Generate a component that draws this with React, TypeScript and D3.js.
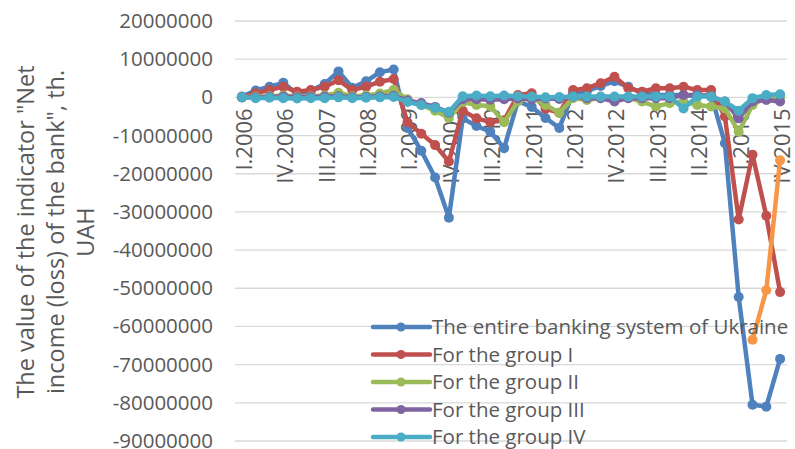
import { useEffect, useRef } from "react";
import * as d3 from "d3";

// quarters I.2006 .. IV.2015
const quarters = [
  "I.2006", "II.2006", "III.2006", "IV.2006",
  "I.2007", "II.2007", "III.2007", "IV.2007",
  "I.2008", "II.2008", "III.2008", "IV.2008",
  "I.2009", "II.2009", "III.2009", "IV.2009",
  "I.2010", "II.2010", "III.2010", "IV.2010",
  "I.2011", "II.2011", "III.2011", "IV.2011",
  "I.2012", "II.2012", "III.2012", "IV.2012",
  "I.2013", "II.2013", "III.2013", "IV.2013",
  "I.2014", "II.2014", "III.2014", "IV.2014",
  "I.2015", "II.2015", "III.2015", "IV.2015",
];

const shownTicks = [
  "I.2006", "IV.2006", "III.2007", "II.2008", "I.2009", "IV.2009", "III.2010",
  "II.2011", "I.2012", "IV.2012", "III.2013", "II.2014", "I.2015", "IV.2015",
];

const yTicks = [
  20000000, 10000000, 0, -10000000, -20000000, -30000000, -40000000,
  -50000000, -60000000, -70000000, -80000000, -90000000,
];

// net income (loss), th. UAH
const entireSystem = [
  200000, 1800000, 2800000, 3800000, 800000, 1800000, 3500000, 6800000,
  2500000, 4200000, 6600000, 7300000, -8000000, -14000000, -21000000, -31500000,
  -5500000, -7500000, -9000000, -13300000, -1000000, -2500000, -5400000, -8000000,
  1100000, 1600000, 3000000, 4200000, 2800000, 1100000, 600000, 600000,
  600000, 300000, 600000, -12000000, -52300000, -80500000, -81000000, -68500000,
];

const groupI = [
  0, 1100000, 1900000, 2800000, 1500000, 1900000, 2800000, 4500000,
  1900000, 2800000, 4100000, 4800000, -6500000, -9500000, -12500000, -16800000,
  -3500000, -5500000, -6500000, -6000000, 600000, 1100000, -3000000, -4000000,
  1900000, 2400000, 3700000, 5400000, 2400000, 1500000, 2400000, 2400000,
  2800000, 1900000, 1900000, -5000000, -32000000, -15000000, -31000000, -51000000,
];

const groupII = [
  0, 200000, 300000, 500000, 200000, 300000, 500000, 1200000,
  300000, 500000, 1000000, 2000000, -500000, -2000000, -3500000, -5400000,
  -1200000, -2000000, -2300000, -6500000, -1000000, 0, -2000000, -4000000,
  -200000, -700000, -200000, -700000, -200000, -1100000, -2400000, -1500000,
  -1100000, -2000000, -2400000, -2900000, -9000000, -2000000, 0, 0,
];

const groupIII = [
  0, 0, 100000, 200000, 0, 100000, 200000, 300000,
  0, 100000, 300000, 400000, -800000, -1500000, -2500000, -4000000,
  -500000, -500000, -600000, -500000, -300000, -500000, -300000, -400000,
  200000, -200000, -200000, -1100000, -200000, -200000, -200000, -200000,
  600000, 600000, 200000, -1100000, -5500000, -1100000, -700000, -1100000,
];

const groupIV = [
  0, -200000, -100000, -200000, -300000, -200000, -200000, 0,
  -200000, -100000, 0, 100000, -1200000, -2000000, -2800000, -3800000,
  300000, 500000, 300000, 500000, 300000, 200000, 0, 100000,
  200000, 200000, 200000, 200000, 200000, 200000, 200000, 200000,
  -2900000, 200000, 200000, -1100000, -3500000, -200000, 600000, 800000,
];

const extraSeries = [
  null, null, null, null, null, null, null, null,
  null, null, null, null, null, null, null, null,
  null, null, null, null, null, null, null, null,
  null, null, null, null, null, null, null, null,
  null, null, null, null, null, -63500000, -50500000, -16500000,
];

const seriesNames = [
  "The entire banking system of Ukraine",
  "For the group I",
  "For the group II",
  "For the group III",
  "For the group IV",
];

const colors = ["#4F81BD", "#C0504D", "#9BBB59", "#8064A2", "#4BACC6", "#F79646"];

export default function App() {
  const ref = useRef<SVGSVGElement>(null);

  useEffect(() => {
    const width = 795;
    const height = 449;
    const font = "'Open Sans', sans-serif";
    const textColor = "#595959";

    const svg = d3.select(ref.current);
    svg.selectAll("*").remove();

    const x = d3.scalePoint<string>().domain(quarters).range([235, 787]).padding(0.5);
    const y = d3.scaleLinear().domain([-90000000, 20000000]).range([441, 21]);

    // gridlines
    svg
      .append("g")
      .selectAll("line")
      .data(yTicks)
      .enter()
      .append("line")
      .attr("x1", 235)
      .attr("x2", 787)
      .attr("y1", (d) => y(d))
      .attr("y2", (d) => y(d))
      .attr("stroke", "#d9d9d9")
      .attr("stroke-width", 1.3);

    // y tick labels
    svg
      .append("g")
      .selectAll("text")
      .data(yTicks)
      .enter()
      .append("text")
      .attr("x", 213)
      .attr("y", (d) => y(d))
      .attr("dy", "0.34em")
      .attr("text-anchor", "end")
      .style("font-family", font)
      .style("font-size", "20.5px")
      .attr("fill", textColor)
      .text((d) => String(d));

    // x tick labels, rotated, hanging below the zero line
    svg
      .append("g")
      .selectAll("text")
      .data(shownTicks)
      .enter()
      .append("text")
      .attr("transform", (d) => `translate(${x(d)! + 2},${y(0) + 11}) rotate(-90)`)
      .attr("dy", "0.36em")
      .attr("text-anchor", "end")
      .style("font-family", font)
      .style("font-size", "22px")
      .attr("fill", textColor)
      .text((d) => d);

    // y axis title
    const title = svg
      .append("text")
      .attr("transform", "translate(34,232) rotate(-90)")
      .attr("text-anchor", "middle")
      .style("font-family", font)
      .style("font-size", "23.5px")
      .attr("fill", textColor);
    ["The value of the indicator \"Net", "income (loss) of the bank\", th.", "UAH"].forEach((t, i) => {
      title.append("tspan").attr("x", 0).attr("y", i * 30).text(t);
    });

    // series
    const allSeries: (number | null)[][] = [entireSystem, groupI, groupII, groupIII, groupIV, extraSeries];
    const line = d3
      .line<number | null>()
      .defined((d) => d !== null)
      .x((_, i) => x(quarters[i])!)
      .y((d) => y(d as number));

    allSeries.forEach((values, si) => {
      const g = svg.append("g");
      g.append("path")
        .datum(values)
        .attr("d", line)
        .attr("fill", "none")
        .attr("stroke", colors[si])
        .attr("stroke-width", 4.5)
        .attr("stroke-linejoin", "round");
      g.selectAll("circle")
        .data(values.map((v, i) => ({ v, i })).filter((d) => d.v !== null))
        .enter()
        .append("circle")
        .attr("cx", (d) => x(quarters[d.i])!)
        .attr("cy", (d) => y(d.v as number))
        .attr("r", 5)
        .attr("fill", colors[si]);
    });

    // legend
    const legend = svg
      .append("g")
      .selectAll("g")
      .data(seriesNames)
      .enter()
      .append("g")
      .attr("transform", (_, i) => `translate(373,${327 + i * 27.5})`);
    legend
      .append("line")
      .attr("x1", 0)
      .attr("x2", 57)
      .attr("stroke", (_, i) => colors[i])
      .attr("stroke-width", 4.5)
      .attr("stroke-linecap", "round");
    legend
      .append("circle")
      .attr("cx", 28)
      .attr("r", 4.5)
      .attr("fill", (_, i) => colors[i]);
    legend
      .append("text")
      .attr("x", 59)
      .attr("dy", "0.36em")
      .style("font-family", font)
      .style("font-size", "20.5px")
      .attr("fill", textColor)
      .text((d) => d);

    svg.attr("width", width).attr("height", height);
  }, []);

  return (
    <svg
      ref={ref}
      width={795}
      height={449}
      style={{ position: "absolute", left: 0, top: 0, background: "#fff" }}
    />
  );
}
